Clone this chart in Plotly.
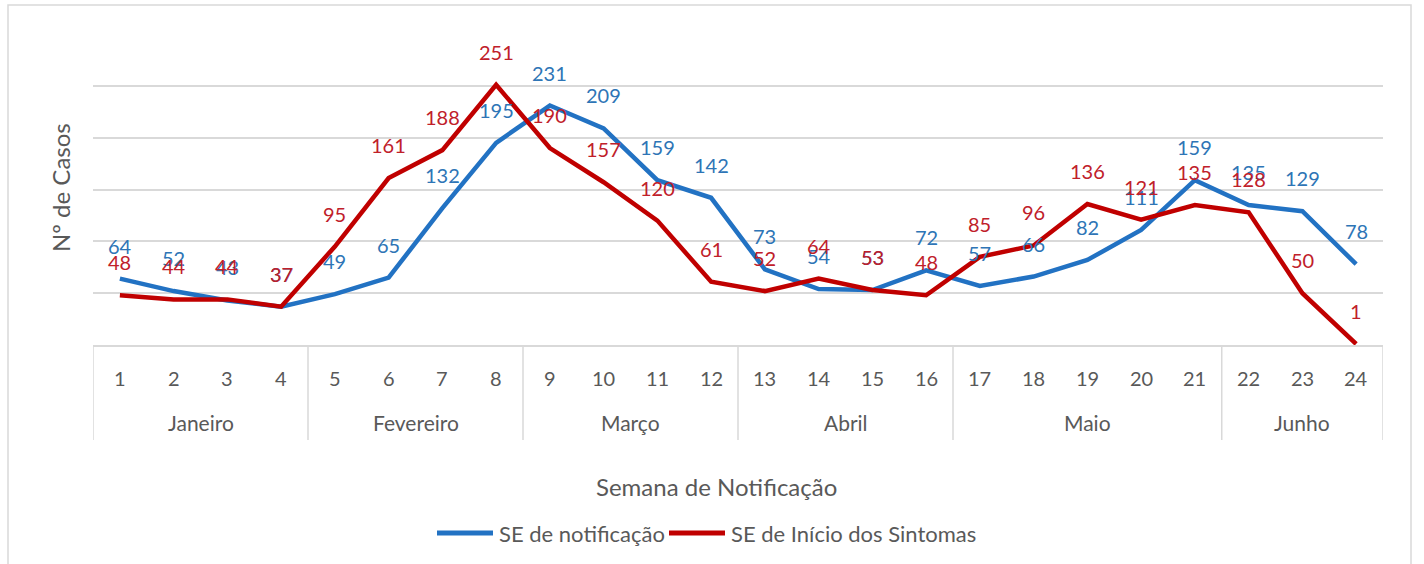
import plotly.graph_objects as go

# ---- data ----
weeks = list(range(1, 25))
week_labels = [str(w) for w in weeks]
se_notificacao = [64, 52, 43, 37, 49, 65, 132, 195, 231, 209, 159, 142,
                  73, 54, 53, 72, 57, 66, 82, 111, 159, 135, 129, 78]
se_inicio = [48, 44, 44, 37, 95, 161, 188, 251, 190, 157, 120, 61,
             52, 64, 53, 48, 85, 96, 136, 121, 135, 128, 50, 1]
months = ["Janeiro", "Fevereiro", "Março", "Abril", "Maio", "Junho"]
month_weeks = [[1, 2, 3, 4], [5, 6, 7, 8], [9, 10, 11, 12],
               [13, 14, 15, 16], [17, 18, 19, 20, 21], [22, 23, 24]]
series_names = ["SE de notificação", "SE de Início dos Sintomas"]
y_title = "Nº de Casos"
x_title = "Semana de Notificação"

# ---- layout geometry (pixels) ----
W, H = 1424, 564
L, R, T, B = 93, 1383, 34, 345
PW, PH = R - L, B - T


def px2x(px):
    return (px - L) / PW


def py2y(py):
    return (B - py) / PH


FONT = "Lato"
GRAY = "#595959"
GRID = "#D9D9D9"
BLUE = "#2272C3"
RED = "#C00000"
BLUE_TXT = "#2E75B6"
RED_TXT = "#C0202A"
colors = [BLUE, RED]

fig = go.Figure()
fig.add_trace(go.Scatter(x=weeks, y=se_notificacao, mode="lines", name=series_names[0],
                         line=dict(color=BLUE, width=4.5), showlegend=False))
fig.add_trace(go.Scatter(x=weeks, y=se_inicio, mode="lines", name=series_names[1],
                         line=dict(color=RED, width=4.5), showlegend=False))

ann = []
for w, v in zip(weeks, se_notificacao):
    ann.append(dict(x=w, y=v, xref="x", yref="y", text=str(v), showarrow=False,
                    yshift=33, font=dict(family=FONT, size=20, color=BLUE_TXT)))
for w, v in zip(weeks, se_inicio):
    ann.append(dict(x=w, y=v, xref="x", yref="y", text=str(v), showarrow=False,
                    yshift=33, font=dict(family=FONT, size=20, color=RED_TXT)))
for w, lab in zip(weeks, week_labels):
    ann.append(dict(x=w, y=0, xref="x", yref="y", text=lab, showarrow=False,
                    yshift=-33, font=dict(family=FONT, size=20, color=GRAY)))
for m, ws in zip(months, month_weeks):
    ann.append(dict(x=sum(ws) / len(ws), y=0, xref="x", yref="y", text=m, showarrow=False,
                    yshift=-77, font=dict(family=FONT, size=21, color=GRAY)))
ann.append(dict(x=px2x(60), y=py2y(188), xref="paper", yref="paper", text=y_title,
                textangle=-90, showarrow=False, xanchor="center", yanchor="middle",
                font=dict(family=FONT, size=24, color=GRAY)))
ann.append(dict(x=px2x(716), y=py2y(486), xref="paper", yref="paper", text=x_title,
                showarrow=False, xanchor="center", yanchor="middle",
                font=dict(family=FONT, size=24, color=GRAY)))

shapes = []
# chart border
shapes.append(dict(type="rect", xref="paper", yref="paper",
                   x0=px2x(8), x1=px2x(1411), y0=py2y(600), y1=py2y(5),
                   line=dict(color=GRID, width=1.5), fillcolor="rgba(0,0,0,0)", layer="below"))
# category table separators
bounds = [ws[0] - 0.5 for ws in month_weeks] + [month_weeks[-1][-1] + 0.5]
for bx in bounds:
    shapes.append(dict(type="line", xref="x", yref="paper", x0=bx, x1=bx,
                       y0=0, y1=py2y(440), line=dict(color=GRID, width=1.5)))

# custom legend (line swatch + text)
leg_y = py2y(533)
leg_line_x = [(437, 493), (669, 725)]
for (a, b), nm, c in zip(leg_line_x, series_names, colors):
    shapes.append(dict(type="line", xref="paper", yref="paper", x0=px2x(a), x1=px2x(b),
                       y0=leg_y, y1=leg_y, line=dict(color=c, width=5)))
    ann.append(dict(x=px2x(b + 4), y=leg_y, xref="paper", yref="paper", text=nm,
                    showarrow=False, xanchor="left", yanchor="middle",
                    font=dict(family=FONT, size=22, color=GRAY)))

fig.update_layout(
    width=W, height=H,
    margin=dict(l=L, r=W - R, t=T, b=H - B, pad=0),
    paper_bgcolor="white", plot_bgcolor="white",
    font=dict(family=FONT, color=GRAY),
    showlegend=False,
    annotations=ann, shapes=shapes,
    xaxis=dict(range=[0.5, 24.5], showgrid=False, zeroline=False, showticklabels=False,
               showline=True, linecolor=GRID, linewidth=1.5, ticks=""),
    yaxis=dict(range=[0, 300], dtick=50, showgrid=True, gridcolor=GRID, gridwidth=1.5,
               zeroline=False, showticklabels=False, ticks=""),
)

fig.write_html("out.html", config={"displayModeBar": False},
               post_script="document.body.style.margin='0';")
